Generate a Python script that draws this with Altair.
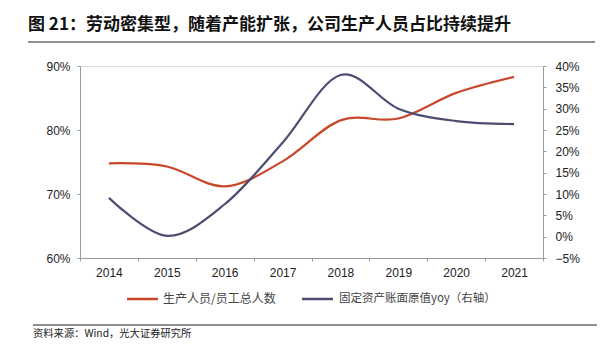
import altair as alt
import pandas as pd

years = ["2014", "2015", "2016", "2017", "2018", "2019", "2020", "2021"]
staff_ratio = [0.748, 0.743, 0.712, 0.751, 0.815, 0.818, 0.858, 0.883]
asset_yoy = [0.091, 0.002, 0.076, 0.220, 0.379, 0.300, 0.271, 0.264]

left_ticks = [0.6, 0.7, 0.8, 0.9]
right_ticks = [-0.05, 0.0, 0.05, 0.10, 0.15, 0.20, 0.25, 0.30, 0.35, 0.40]

title_text = "图 21：劳动密集型，随着产能扩张，公司生产人员占比持续提升"
legend_red = "生产人员/员工总人数"
legend_blue = "固定资产账面原值yoy（右轴）"
source_text = "资料来源：Wind，光大证券研究所"

RED = "#C8472B"
BLUE = "#4E4C72"
AXC = "#9a9a9a"
LATIN = "Liberation Sans"
CJK = "Noto Sans CJK SC"

df = pd.DataFrame({"year": years, "staff": staff_ratio, "asset": asset_yoy})

x_enc = alt.X(
    "year:O",
    scale=alt.Scale(type="band", paddingInner=0, paddingOuter=0),
    bandPosition=0.5,
    axis=alt.Axis(
        title=None, labelAngle=0, tickBand="extent", tickSize=3, domainColor=AXC,
        tickColor=AXC, labelFont=LATIN, labelFontSize=12, labelColor="#222",
        labelPadding=6, grid=False,
    ),
)

base = alt.Chart(df)

red_line = base.mark_line(color=RED, strokeWidth=2.2, interpolate="cardinal").encode(
    x=x_enc,
    y=alt.Y(
        "staff:Q",
        scale=alt.Scale(domain=[0.6, 0.9], nice=False, zero=False),
        axis=alt.Axis(
            title=None, format=".0%", values=left_ticks, orient="left", grid=False,
            domainColor=AXC, tickColor=AXC, tickSize=3, labelFont=LATIN,
            labelFontSize=12, labelColor="#222", labelPadding=7,
        ),
    ),
)

blue_line = base.mark_line(color=BLUE, strokeWidth=2.2, interpolate="cardinal").encode(
    x=x_enc,
    y=alt.Y(
        "asset:Q",
        scale=alt.Scale(domain=[-0.05, 0.4], nice=False, zero=False),
        axis=alt.Axis(
            title=None, format=".0%", values=right_ticks, orient="right", grid=False,
            domainColor=AXC, tickColor=AXC, tickSize=3, labelFont=LATIN,
            labelFontSize=12, labelColor="#222", labelPadding=9,
        ),
    ),
)

one = pd.DataFrame({"k": [0]})
deco_base = alt.Chart(one)

title_mark = deco_base.mark_text(
    text=title_text, font=CJK, fontSize=17, fontWeight="bold", align="left",
    baseline="middle", color="#111",
).encode(x=alt.value(-52), y=alt.value(-41))

title_rule = deco_base.mark_rule(color="#222", strokeWidth=1.2).encode(
    x=alt.value(-52), x2=alt.value(515), y=alt.value(-24)
)

leg_red_rule = deco_base.mark_rule(color=RED, strokeWidth=2.5).encode(
    x=alt.value(47), x2=alt.value(78), y=alt.value(233)
)
leg_red_text = deco_base.mark_text(
    text=legend_red, font=CJK, fontSize=12, align="left", baseline="middle", color="#444"
).encode(x=alt.value(83), y=alt.value(233))

leg_blue_rule = deco_base.mark_rule(color=BLUE, strokeWidth=2.5).encode(
    x=alt.value(222), x2=alt.value(253), y=alt.value(233)
)
leg_blue_text = deco_base.mark_text(
    text=legend_blue, font=CJK, fontSize=11.5, align="left", baseline="middle", color="#444"
).encode(x=alt.value(259), y=alt.value(233))

source_rule = deco_base.mark_rule(color="#222", strokeWidth=1).encode(
    x=alt.value(-47), x2=alt.value(517), y=alt.value(259)
)
source_mark = deco_base.mark_text(
    text=source_text, font=CJK, fontSize=10.3, align="left", baseline="middle", color="#222"
).encode(x=alt.value(-47), y=alt.value(268))

chart = (
    alt.layer(
        red_line, blue_line,
        title_mark, title_rule, leg_red_rule, leg_red_text,
        leg_blue_rule, leg_blue_text, source_rule, source_mark,
    )
    .resolve_scale(y="independent")
    .properties(
        width=463, height=192,
        autosize=alt.AutoSizeParams(type="none"),
        padding={"left": 72, "top": 58, "right": 56, "bottom": 86},
    )
    .configure_view(stroke=None)
    .configure(background="white")
)

chart.save("out.html", embed_options={"renderer": "svg", "actions": False})
